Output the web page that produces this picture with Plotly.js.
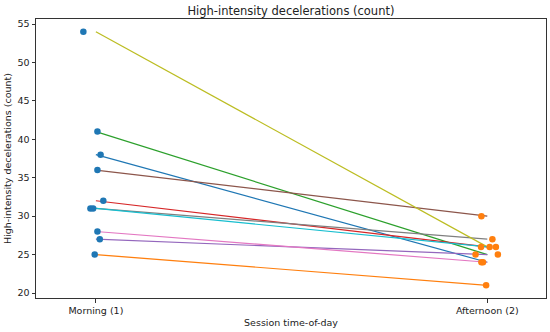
<!DOCTYPE html>
<html>
<head>
<meta charset="utf-8">
<script src="https://cdn.plot.ly/plotly-3.0.1.min.js"></script>
<style>html,body{margin:0;padding:0;background:#fff;}#chart{width:550px;height:332px;}</style>
</head>
<body>
<div id="chart"></div>
<script>
// Per-subject values (subject order matches tab10 colour order)
const sessions = ["Morning (1)", "Afternoon (2)"];
const sessionPos = [1, 2];
const morning   = [38, 25, 41, 32, 27, 36, 28, 31, 54, 31];
const afternoon = [24, 21, 25, 26, 25, 30, 24, 27, 26, 26];
// horizontal jitter of the scatter points (data units)
const morningJitter   = [0.012, -0.003, 0.004, 0.019, 0.010, 0.004, 0.004, -0.014, -0.032, -0.007];
const afternoonJitter = [-0.015, -0.003, 0.027, 0.006, -0.030, -0.015, -0.011, 0.013, 0.022, -0.016];
const lineColors = ["#1f77b4","#ff7f0e","#2ca02c","#d62728","#9467bd","#8c564b","#e377c2","#7f7f7f","#bcbd22","#17becf"];

const FONT = "DejaVu Sans, sans-serif";
const traces = [];
for (let i = 0; i < morning.length; i++) {
  traces.push({
    type: "scatter", mode: "lines",
    x: sessionPos, y: [morning[i], afternoon[i]],
    line: {color: lineColors[i], width: 1.2},
    hoverinfo: "skip", showlegend: false
  });
}
traces.push({
  type: "scatter", mode: "markers",
  x: sessionPos.slice(0,1).flatMap(p => morningJitter.map(j => p + j)),
  y: morning,
  marker: {color: "#1f77b4", size: 6.5},
  showlegend: false
});
traces.push({
  type: "scatter", mode: "markers",
  x: afternoonJitter.map(j => sessionPos[1] + j),
  y: afternoon,
  marker: {color: "#ff7f0e", size: 6.5},
  showlegend: false
});

const axisCommon = {
  showgrid: false, zeroline: false,
  showline: true, mirror: true, linecolor: "#333", linewidth: 1,
  ticks: "outside", ticklen: 3.5, tickcolor: "#333", tickwidth: 1,
  tickfont: {family: FONT, size: 9.5, color: "#222"},
  automargin: false
};

const layout = {
  width: 550, height: 332,
  margin: {l: 36, r: 4, t: 19, b: 34},
  paper_bgcolor: "#fff", plot_bgcolor: "#fff",
  font: {family: FONT, color: "#222"},
  title: {text: "High-intensity decelerations (count)", font: {family: FONT, size: 11.5, color: "#222"},
          x: 0.529, xanchor: "center", y: 0.968, yanchor: "middle"},
  xaxis: Object.assign({}, axisCommon, {
    range: [0.847, 2.150],
    tickvals: sessionPos, ticktext: sessions,
    title: {text: "Session time-of-day", font: {family: FONT, size: 9.5, color: "#222"}, standoff: 4}
  }),
  yaxis: Object.assign({}, axisCommon, {
    range: [19.35, 55.65],
    tickvals: [20,25,30,35,40,45,50,55],
    title: {text: "High-intensity decelerations (count)", font: {family: FONT, size: 9.5, color: "#222"}, standoff: 4}
  })
};

Plotly.newPlot("chart", traces, layout, {staticPlot: true, displayModeBar: false});
</script>
</body>
</html>
